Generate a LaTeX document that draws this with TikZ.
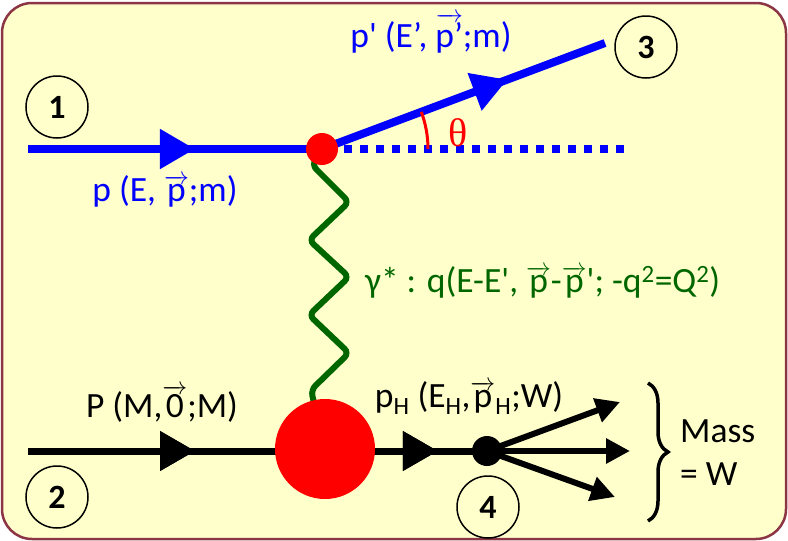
\documentclass[tikz,border=0pt]{standalone}
\usepackage{fontspec}
\setmainfont{Carlito}[Ligatures=TeXOff]
\newfontfamily\thetafont{Liberation Serif}
\usetikzlibrary{arrows.meta,decorations.markings,decorations.pathreplacing,calc}
\definecolor{bgy}{HTML}{FFFFCC}
\definecolor{bord}{HTML}{8B3545}
\definecolor{phgreen}{HTML}{006600}
\newcommand\myvec[1]{$\overrightarrow{\mbox{#1}}$}
\tikzset{
  numcirc/.style={circle, draw=black, line width=1.5pt, minimum size=62pt, inner sep=0pt, font=\fontsize{34}{40}\selectfont\bfseries},
  midtri/.style={postaction={decorate}, decoration={markings, mark=at position #1 with {\arrow{Triangle[length=35pt,width=38pt]}}}},
  lbl/.style={inner sep=0pt, anchor=base, font=\fontsize{35.5}{42}\selectfont},
  outarr/.style={line width=6pt, -{Triangle[length=24pt,width=24pt]}},
}
\begin{document}
\begin{tikzpicture}[x=1pt,y=-1pt]
\useasboundingbox (0,0) rectangle (788,541);
\draw[fill=bgy, draw=bord, line width=2.5pt, rounded corners=30pt] (2,3) rectangle (786,539);

% coordinates
\coordinate (s1) at (28,149);
\coordinate (v1) at (322,149);
\coordinate (o1) at (605,43);
\coordinate (d1) at (625,149);
\coordinate (s2) at (28,451);
\coordinate (bc) at (325,449);
\coordinate (v4) at (487,451);
\coordinate (e1) at (620,402);
\coordinate (e2) at (630,451);
\coordinate (e3) at (615,497);

% photon
\draw[phgreen, line width=6pt, rounded corners=6pt, line cap=round]
  (v1) -- (312,165) -- (349,202) -- (309,240) -- (349,277) -- (309,315) -- (349,353) -- (311,390) -- (bc);

% incoming electron
\draw[blue, line width=8pt, midtri=0.568] (s1) -- (v1);
% outgoing electron
\draw[blue, line width=8pt, midtri=0.655] (v1) -- (o1);
% dotted continuation
\draw[blue, line width=8pt, dash pattern=on 8pt off 8pt] ($(v1)+(22,0)$) -- (d1);
% angle
\draw[red, line width=3pt] ($(v1)+(106,0)$) arc[start angle=0, end angle=-20.5, radius=106];

% bottom line
\draw[black, line width=7pt, midtri=0.364, midtri=0.893] (s2) -- (v4);
\draw[outarr] (v4) -- (e1);
\draw[outarr] (v4) -- (e2);
\draw[outarr] (v4) -- (e3);

% vertices
\node[circle, fill=red, minimum size=32pt, inner sep=0pt] (vtx1) at (v1) {};
\node[circle, fill=red, minimum size=100pt, inner sep=0pt] (blob) at (bc) {};
\node[circle, fill=black, minimum size=30pt, inner sep=0pt] (vtx4) at (v4) {};

% number circles
\node[numcirc] (n1) at (57,107) {1};
\node[numcirc] (n2) at (57,497) {2};
\node[numcirc] (n3) at (646,47) {3};
\node[numcirc] (n4) at (488,507) {4};

% labels
\node[lbl, blue] (lp1) at (165,201) {p (E, \myvec{p};m)};
\node[lbl, blue] (lp2) at (431,47) {p' (E’, \myvec{p’};m)};
\node[lbl, red, font=\fontsize{40}{44}\selectfont\thetafont] (lth) at (458,146) {θ};
\node[lbl, phgreen, anchor=base west] (lq) at (365,292) {γ* : q(E-E', \myvec{p}-\myvec{p}'; -q\textsuperscript{2}=Q\textsuperscript{2})};
\node[lbl] (lP) at (162,417) {P (M,\myvec{0};M)};
\node[lbl] (lpH) at (469,407) {p\textsubscript{H} (E\textsubscript{H},\myvec{p}\textsubscript{H};W)};

% brace
\coordinate (b1) at (648,383);
\coordinate (b2) at (648,521);
\draw[decorate, decoration={brace, amplitude=20pt}, line width=3.5pt] (b1) -- (b2);
\node[lbl, anchor=base west] (lm1) at (680,442) {Mass};
\node[lbl, anchor=base west] (lm2) at (680,485) {= W};
\end{tikzpicture}
\end{document}
